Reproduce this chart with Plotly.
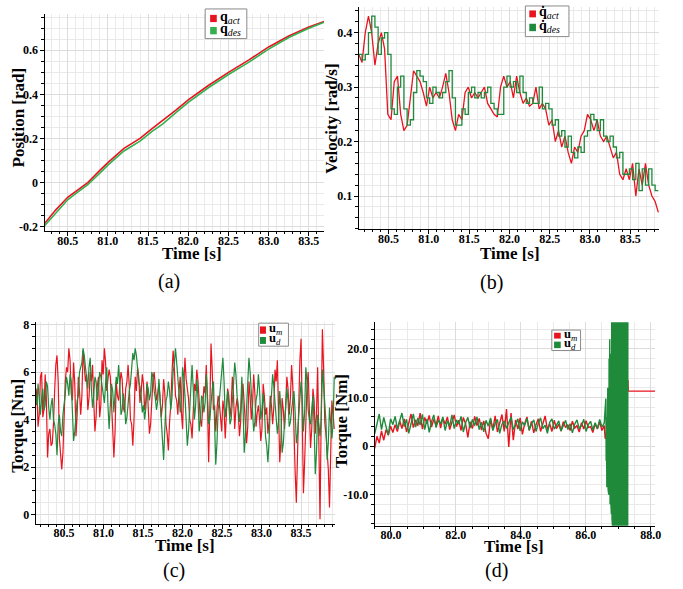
import plotly.graph_objects as go

# ---------------- data ----------------
# (a) position
t_a = [80.21, 80.35, 80.5, 80.6, 80.75, 80.9, 81.0, 81.2, 81.4, 81.55, 81.68, 81.85,
       82.0, 82.25, 82.5, 82.75, 83.0, 83.25, 83.5, 83.69]
q_act = [-0.187, -0.125, -0.067, -0.04, 0.0, 0.055, 0.09, 0.155, 0.2, 0.245, 0.28, 0.33,
         0.375, 0.44, 0.5, 0.555, 0.615, 0.665, 0.705, 0.73]
q_des = [-0.197, -0.138, -0.078, -0.05, -0.01, 0.043, 0.079, 0.143, 0.188, 0.232, 0.265, 0.318,
         0.364, 0.43, 0.49, 0.545, 0.605, 0.658, 0.70, 0.727]

# (b) velocity, sampled every 0.04 s from 80.13 s
t0_b, dt_b = 80.13, 0.04
qd_act = [0.36, 0.345, 0.40, 0.43, 0.40, 0.34, 0.38, 0.40, 0.37, 0.25,
          0.24, 0.31, 0.32, 0.25, 0.22, 0.23, 0.28, 0.33, 0.32, 0.31,
          0.29, 0.265, 0.30, 0.28, 0.29, 0.28, 0.30, 0.325, 0.29, 0.24,
          0.22, 0.25, 0.24, 0.29, 0.30, 0.28, 0.29, 0.28, 0.29, 0.30,
          0.27, 0.26, 0.25, 0.245, 0.30, 0.32, 0.30, 0.31, 0.28, 0.32,
          0.29, 0.27, 0.28, 0.265, 0.27, 0.30, 0.26, 0.27, 0.26, 0.23,
          0.24, 0.20, 0.22, 0.19, 0.21, 0.18, 0.16, 0.19, 0.18, 0.21,
          0.22, 0.25, 0.24, 0.22, 0.24, 0.21, 0.20, 0.21, 0.19, 0.17,
          0.18, 0.14, 0.13, 0.15, 0.13, 0.16, 0.10, 0.15, 0.12, 0.16,
          0.12, 0.10, 0.09, 0.07]
qd_des = [0.36, 0.35, 0.36, 0.40, 0.43, 0.41, 0.36, 0.39, 0.40, 0.36,
          0.26, 0.25, 0.30, 0.32, 0.26, 0.23, 0.24, 0.29, 0.33, 0.32,
          0.31, 0.28, 0.27, 0.30, 0.29, 0.28, 0.29, 0.31, 0.33, 0.28,
          0.23, 0.23, 0.26, 0.25, 0.29, 0.30, 0.28, 0.29, 0.28, 0.29,
          0.30, 0.27, 0.26, 0.25, 0.25, 0.30, 0.32, 0.30, 0.31, 0.29,
          0.32, 0.29, 0.27, 0.28, 0.27, 0.27, 0.30, 0.26, 0.27, 0.26,
          0.23, 0.24, 0.21, 0.22, 0.19, 0.21, 0.18, 0.17, 0.19, 0.18,
          0.21, 0.22, 0.25, 0.24, 0.22, 0.24, 0.21, 0.20, 0.21, 0.19,
          0.17, 0.18, 0.14, 0.14, 0.15, 0.13, 0.16, 0.11, 0.15, 0.12,
          0.15, 0.12, 0.11, 0.11]

# (c) torque: samples every 0.03 s from 80.14 s, plus the readings half-way between them
t0_c, dt_c = 80.14, 0.015
u_m_c_on = [4.6, 3.7, 5.8, 4.1, 5.9, 2.4, 3.6, 3.0, 5.2, 6.7,
            3.2, 1.9, 4.5, 6.2, 7.0, 5.1, 6.4, 3.3, 5.8, 4.2,
            6.9, 5.6, 4.4, 6.0, 6.3, 3.5, 5.4, 4.1, 6.5, 7.0,
            5.2, 6.1, 4.3, 2.4, 5.6, 4.8, 6.0, 4.5, 5.3, 6.3,
            4.0, 2.9, 5.8, 6.2, 4.7, 5.9, 4.4, 5.6, 3.4, 5.0,
            6.0, 4.8, 5.5, 4.1, 5.7, 3.8, 2.7, 4.6, 6.9, 5.0,
            4.2, 5.8, 3.6, 6.6, 5.2, 4.0, 3.2, 5.5, 6.1, 4.6,
            3.7, 5.4, 6.3, 2.2, 7.2, 4.4, 3.5, 5.0, 3.9, 4.8,
            3.2, 5.3, 4.1, 5.8, 3.6, 4.9, 3.3, 5.2, 4.5, 3.0,
            5.6, 4.0, 5.9, 3.7, 4.6, 3.1, 5.5, 4.2, 3.4, 5.0,
            3.8, 6.1, 6.5, 2.2, 4.9, 3.6, 5.8, 4.2, 6.3, 3.1,
            0.5, 5.2, 7.4, 0.9, 4.4, 6.0, 2.8, 5.3, 3.4, 6.2,
            -0.2, 7.8, 3.9, 2.7, 0.3, 4.8, 3.6]
u_m_c_mid = [5.3, 4.2, 6.0, 4.4, 4.9, 3.4, 2.9, 3.8, 6.3, 5.6,
             2.4, 2.6, 5.6, 6.0, 6.5, 4.8, 5.5, 4.2, 5.2, 5.0,
             6.4, 5.9, 4.9, 5.6, 4.8, 4.1, 5.8, 4.6, 5.9, 6.4,
             5.7, 5.8, 3.6, 3.5, 5.0, 5.6, 5.7, 4.3, 5.6, 5.4,
             3.8, 4.0, 5.2, 5.8, 5.1, 5.5, 4.8, 4.5, 3.8, 5.7,
             5.3, 5.1, 4.9, 4.6, 5.1, 3.4, 3.9, 5.9, 6.2, 4.8,
             5.2, 4.3, 5.4, 5.7, 4.9, 3.8, 4.7, 5.2, 5.6, 4.0,
             4.8, 5.1, 4.7, 4.5, 6.1, 4.6, 4.4, 4.7, 3.5, 4.4,
             4.0, 5.0, 4.6, 5.0, 4.5, 4.3, 3.9, 5.5, 4.1, 3.7,
             5.0, 4.6, 5.1, 4.3, 4.0, 3.6, 5.0, 4.5, 3.9, 4.6,
             4.5, 5.6, 4.4, 3.1, 4.4, 4.5, 5.3, 4.9, 5.4, 1.8,
             2.6, 6.5, 3.6, 2.2, 5.4, 4.1, 3.6, 4.8, 4.2, 3.0,
             4.1, 6.2, 3.4, 1.9, 2.5, 4.2]
u_d_c_on = [5.0, 5.5, 4.2, 5.3, 4.6, 5.4, 4.0, 4.9, 3.8, 2.5,
            4.2, 3.3, 4.6, 5.8, 5.0, 5.6, 3.1, 4.4, 5.0, 6.2,
            7.0, 6.2, 5.3, 6.6, 4.5, 5.8, 4.8, 6.0, 5.4, 4.7,
            6.2, 3.6, 5.5, 4.3, 5.8, 6.3, 4.2, 5.1, 3.8, 4.9,
            5.5, 6.8, 7.0, 6.1, 5.4, 4.3, 4.0, 5.5, 4.8, 6.0,
            5.2, 4.4, 5.7, 3.9, 2.3, 4.8, 5.6, 4.4, 6.0, 7.0,
            5.5, 4.3, 6.2, 5.0, 2.9, 4.6, 6.3, 4.0, 5.7, 3.5,
            5.0, 4.3, 5.9, 3.8, 4.8, 5.6, 2.1, 4.4, 5.5, 6.6,
            4.1, 5.2, 3.8, 4.6, 6.4, 5.0, 3.9, 5.8, 2.6, 4.5,
            6.6, 5.3, 3.5, 4.8, 5.9, 4.0, 5.1, 3.3, 2.2, 4.5,
            5.9, 4.6, 3.4, 5.2, 2.6, 4.1, 5.3, 3.7, 4.4, 5.2,
            3.0, 4.3, 5.6, 3.5, 6.2, 4.4, 3.8, 5.0, 1.7, 4.2,
            3.3, 6.1, 4.6, 2.3, 4.5, 3.2, 5.8]
u_d_c_mid = [4.6, 5.0, 4.9, 4.4, 5.6, 4.5, 4.6, 4.0, 3.4, 3.8,
             3.5, 4.2, 5.1, 5.5, 5.9, 4.2, 3.5, 4.8, 6.0, 6.4,
             6.7, 5.6, 6.2, 5.3, 5.0, 5.6, 5.3, 5.8, 5.1, 5.5,
             4.6, 4.6, 5.2, 5.1, 5.5, 5.5, 4.4, 4.7, 4.1, 5.2,
             6.4, 6.5, 6.7, 5.6, 5.0, 4.6, 4.5, 5.3, 5.1, 5.8,
             4.9, 4.8, 4.9, 3.4, 3.6, 5.0, 5.2, 4.9, 6.3, 6.4,
             5.1, 4.8, 5.8, 4.1, 3.5, 5.4, 5.3, 4.6, 4.9, 4.0,
             4.9, 4.7, 5.0, 4.0, 5.3, 4.0, 3.0, 4.8, 5.9, 5.6,
             4.5, 4.7, 4.0, 5.5, 5.9, 4.6, 4.4, 4.6, 3.3, 5.3,
             6.0, 4.6, 3.9, 5.1, 5.2, 4.4, 4.5, 2.9, 3.1, 5.0,
             5.4, 4.1, 3.9, 4.4, 3.0, 4.6, 4.8, 3.9, 4.9, 4.3,
             3.4, 4.7, 4.9, 4.3, 5.6, 4.0, 4.4, 3.8, 2.6, 3.8,
             4.0, 5.5, 3.9, 3.0, 4.0, 3.8]

# (d) torque over the longer run: noisy part every 0.07 s from 79.5 s
t0_d, dt_d = 79.5, 0.07
u_m_d = [-0.5, 2.0, 0.6, 3.1, 1.2, 3.4, 2.2, 4.1, 2.8, 4.4,
         3.0, 5.2, 3.6, 5.6, 2.9, 4.9, 6.6, 3.8, 5.4, 4.2,
         6.8, 3.5, 5.9, 4.6, 6.3, 3.9, 5.5, 4.3, 6.2, 3.7,
         5.8, 4.5, 6.0, 3.4, 5.1, 6.4, 4.0, 5.3, 3.2, 5.9,
         4.6, 1.8, 5.0, 3.6, 6.1, 4.2, 5.7, 3.3, 5.2, 2.6,
         1.5, 5.5, 3.4, 6.2, 2.9, 4.8, 6.5, 3.0, 7.6, -0.2,
         6.8, 1.2, 5.4, 3.5, 5.8, 2.4, 4.6, 6.0, 3.2, 5.1,
         2.7, 4.4, 5.6, 3.0, 4.7, 6.2, 3.4, 4.6, 3.0, 5.3,
         3.6, 4.5, 3.1, 5.0, 3.8, 4.4, 3.2, 5.1, 3.7, 4.2,
         2.9, 4.8, 3.5, 5.2, 3.8, 4.0, 2.8, 4.6, 3.5, 5.0,
         3.2, 4.2]
u_d_d = [2.5, 4.8, 6.6, 3.4, 5.9, 4.0, 2.3, 5.6, 4.4, 6.1,
         3.5, 5.2, 6.8, 4.0, 5.5, 2.6, 4.7, 6.6, 3.9, 5.8,
         4.3, 6.5, 3.4, 5.6, 2.8, 5.0, 6.4, 3.8, 5.3, 4.6,
         6.0, 3.2, 5.2, 4.1, 6.4, 3.6, 5.4, 4.5, 6.1, 2.9,
         4.8, 5.9, 3.7, 5.5, 4.2, 6.0, 3.4, 4.9, 2.9, 5.3,
         4.1, 5.8, 3.2, 4.6, 5.5, 2.6, 4.5, 5.2, 3.6, 4.8,
         6.0, 3.4, 4.3, 5.6, 3.1, 5.0, 4.2, 5.7, 3.3, 4.6,
         5.4, 3.0, 4.7, 5.8, 3.6, 4.3, 2.6, 4.9, 5.6, 3.5,
         4.4, 5.2, 3.1, 4.1, 5.3, 3.4, 4.6, 2.7, 4.5, 5.4,
         3.6, 4.2, 5.5, 3.0, 4.4, 5.1, 3.3, 4.8, 3.6, 5.5,
         3.9, 4.7]
# (d) unstable end: desired torque oscillation every 0.01 s from 86.62 s
t0_osc, dt_osc = 86.62, 0.01
u_d_osc = [9.8, -3, 6, -8.5, 10, -6, 12, -9, 15, -10,
           18, -8, 22, -12, 19, -11, 24, -14, 26, -15,
           28, -17, 40, -40, 40, -40, 40, -40, 40, -40,
           40, -40, 40, -40, 40, -40, 40, -40, 40, -40,
           40, -40, 40, -40, 40, -40, 40, -40, 40, -40,
           40, -40, 40, -40, 40, -40, 40, -40, 40, -40,
           40, -40, 40, -40, 40, -40, 40, -40, 40]
# (d) measured torque after the noisy part
t_m_tail = [86.6, 86.7, 87.0, 87.3, 87.31, 88.14]
u_m_tail = [1.5, 5.0, 8.0, 13.6, 11.3, 11.3]

# tick labels
a_yvals = [-0.2, 0, 0.2, 0.4, 0.6]
a_ytext = ["-0.2", "0", "0.2", "0.4", "0.6"]
b_yvals = [0.1, 0.2, 0.3, 0.4]
b_ytext = ["0.1", "0.2", "0.3", "0.4"]
c_yvals = [0, 2, 4, 6, 8]
c_ytext = ["0", "2", "4", "6", "8"]
d_yvals = [-10, 0, 10, 20]
d_ytext = ["-10.0", "0", "10.0", "20.0"]
abc_xvals = [80.5, 81.0, 81.5, 82.0, 82.5, 83.0, 83.5]
abc_xtext = ["80.5", "81.0", "81.5", "82.0", "82.5", "83.0", "83.5"]
d_xvals = [80, 82, 84, 86, 88]
d_xtext = ["80.0", "82.0", "84.0", "86.0", "88.0"]

# legend labels
leg_a = ["<b>q</b><sub><i>act</i></sub>", "<b>q</b><sub><i>des</i></sub>"]
leg_b = ["<b>q̇</b><sub><i>act</i></sub>", "<b>q̇</b><sub><i>des</i></sub>"]
leg_cd = ["<b>u</b><sub><i>m</i></sub>", "<b>u</b><sub><i>d</i></sub>"]

# ---------------- figure ----------------
RED = "#e8141f"
GREEN = "#1e8a3a"
GREEN_A = "#34b050"
SERIF = "Liberation Serif"
W, H = 683, 589


def times(t0, dt, n):
    return [round(t0 + dt * i, 4) for i in range(n)]


def interleave(on, mid):
    out = []
    for i, v in enumerate(on):
        out.append(v)
        if i < len(mid):
            out.append(mid[i])
    return out


fig = go.Figure()


def line(x, y, color, xa, ya, name, width=1.4, shape="linear"):
    fig.add_trace(go.Scatter(x=x, y=y, mode="lines", name=name,
                             line=dict(color=color, width=width, shape=shape),
                             xaxis=xa, yaxis=ya, showlegend=False, hoverinfo="skip"))


# (a)
line(t_a, q_act, RED, "x", "y", "q_act", 1.6)
line(t_a, q_des, GREEN_A, "x", "y", "q_des", 1.6)
# (b)
line(times(t0_b, dt_b, len(qd_act)), qd_act, RED, "x2", "y2", "qd_act", 1.3)
line(times(t0_b, dt_b, len(qd_des)), qd_des, GREEN, "x2", "y2", "qd_des", 1.3, "hv")
# (c)
um_c = interleave(u_m_c_on, u_m_c_mid)
ud_c = interleave(u_d_c_on, u_d_c_mid)
line(times(t0_c, dt_c, len(um_c)), um_c, RED, "x3", "y3", "u_m", 1.2)
line(times(t0_c, dt_c, len(ud_c)), ud_c, GREEN, "x3", "y3", "u_d", 1.2)
# (d)
line(times(t0_d, dt_d, len(u_m_d)) + t_m_tail, u_m_d + u_m_tail, RED, "x4", "y4", "u_m", 1.4)
line(times(t0_d, dt_d, len(u_d_d)) + times(t0_osc, dt_osc, len(u_d_osc)), u_d_d + u_d_osc,
     GREEN, "x4", "y4", "u_d", 1.4)


def dom_x(a, b):
    return [a / W, b / W]


def dom_y(top, bottom):
    return [1 - bottom / H, 1 - top / H]


tickfont = dict(family=SERIF, size=12, color="black", weight="bold")
GRID = "#dcdcdc"
MINOR_GRID = "#e9e9e9"


def xaxis(domain, anchor, rng, vals, text, minor_dtick):
    return dict(domain=domain, anchor=anchor, range=rng, tickvals=vals, ticktext=text,
                showline=True, linecolor="black", linewidth=1.2, mirror=False,
                ticks="outside", ticklen=4, tickcolor="black", tickfont=tickfont,
                ticklabelstandoff=-6,
                showgrid=True, gridcolor=GRID, gridwidth=1, zeroline=False,
                minor=dict(dtick=minor_dtick, showgrid=True, gridcolor=MINOR_GRID,
                           ticks="outside", ticklen=2, tickcolor="black"))


def yaxis(domain, anchor, rng, vals, text, minor_dtick):
    return dict(domain=domain, anchor=anchor, range=rng, tickvals=vals, ticktext=text,
                showline=True, linecolor="black", linewidth=1.2, mirror=False,
                ticks="outside", ticklen=4, tickcolor="black", tickfont=tickfont,
                ticklabelstandoff=-1,
                showgrid=True, gridcolor=GRID, gridwidth=1, zeroline=False,
                minor=dict(dtick=minor_dtick, showgrid=True, gridcolor=MINOR_GRID,
                           ticks="outside", ticklen=3, tickcolor="black"))


fig.update_layout(
    width=W, height=H, margin=dict(l=0, r=0, t=0, b=0),
    paper_bgcolor="white", plot_bgcolor="white",
    font=dict(family=SERIF, color="black"),
    showlegend=False,
    xaxis=xaxis(dom_x(45, 327), "y", [80.213, 83.69], abc_xvals, abc_xtext, 0.1),
    yaxis=yaxis(dom_y(10, 230), "x", [-0.221, 0.765], a_yvals, a_ytext, 0.05),
    xaxis2=xaxis(dom_x(362, 665), "y2", [80.13, 83.86], abc_xvals, abc_xtext, 0.1),
    yaxis2=yaxis(dom_y(3, 228), "x2", [0.039, 0.447], b_yvals, b_ytext, 0.02),
    xaxis3=xaxis(dom_x(36, 338), "y3", [80.14, 83.93], abc_xvals, abc_xtext, 0.1),
    yaxis3=yaxis(dom_y(322, 526), "x3", [-0.39, 8.1], c_yvals, c_ytext, 0.5),
    xaxis4=xaxis(dom_x(378, 661), "y4", [79.5, 88.14], d_xvals, d_xtext, 0.5),
    yaxis4=yaxis(dom_y(322, 528), "x4", [-16.4, 25.5], d_yvals, d_ytext, 2),
)


def text_at(txt, px, py, size, angle=0, bold=False):
    fig.add_annotation(text=txt, x=px / W, y=1 - py / H, xref="paper", yref="paper",
                       showarrow=False, textangle=angle, xanchor="center", yanchor="middle",
                       font=dict(family=SERIF, size=size, color="black",
                                 weight="bold" if bold else "normal"))


# axis titles
axis_titles = [("Time [s]", 194, 252, 0), ("Position [rad]", 19, 115, -90),
               ("Time [s]", 515, 252, 0), ("Velocity [rad/s]", 335, 116, -90),
               ("Time [s]", 187, 548, 0), ("Torque [Nm]", 18, 427, -90),
               ("Time [s]", 519, 549, 0), ("Torque [Nm]", 345, 422, -90)]
for txt, px, py, ang in axis_titles:
    text_at(txt, px, py, 17, ang, bold=True)


# compact boxed legends (drawn as paper-space shapes and texts)
def px_rect(x0, y0, x1, y1, **kw):
    fig.add_shape(type="rect", xref="paper", yref="paper",
                  x0=x0 / W, x1=x1 / W, y0=1 - y1 / H, y1=1 - y0 / H, **kw)


def boxed_legend(box, labels, colors, sq, font_size):
    bx0, by0, bx1, by1 = box
    px_rect(bx0, by0, bx1, by1, line=dict(color="#8a8a8a", width=1), fillcolor="white", layer="above")
    sx0, sx1, rows = sq
    for (ry0, ry1), lab, col in zip(rows, labels, colors):
        px_rect(sx0, ry0, sx1, ry1, line=dict(width=0), fillcolor=col, layer="above")
        fig.add_annotation(text=lab, x=(sx1 + 1.0) / W, y=1 - ((ry0 + ry1) / 2 - 1) / H,
                           xref="paper", yref="paper", showarrow=False,
                           xanchor="left", yanchor="middle",
                           font=dict(family=SERIF, size=font_size, color="black"))


boxed_legend((207, 5, 249, 35), leg_a, [RED, GREEN_A], (212, 218.7, [(11, 18.3), (23.3, 30.7)]), 14)
boxed_legend((530, 2, 574, 33), leg_b, [RED, GREEN], (534, 540.7, [(6.5, 13.5), (20, 27.5)]), 14)
boxed_legend((261, 323, 291, 346.3), leg_cd, [RED, GREEN], (262.3, 268.3, [(326.3, 333.7), (337, 344)]), 12.5)
boxed_legend((556.7, 330, 585.7, 350.7), leg_cd, [RED, GREEN], (559, 565.7, [(332.7, 338.6), (341.7, 348.3)]), 12.5)

# sub-figure captions
captions = [("(a)", 170, 281), ("(b)", 496, 282), ("(c)", 176, 573), ("(d)", 501, 573)]
for txt, px, py in captions:
    text_at(txt, px, py, 20)

fig.write_html("out.html", config={"displayModeBar": False},
               post_script="document.body.style.margin='0px';document.body.style.overflow='hidden';")
